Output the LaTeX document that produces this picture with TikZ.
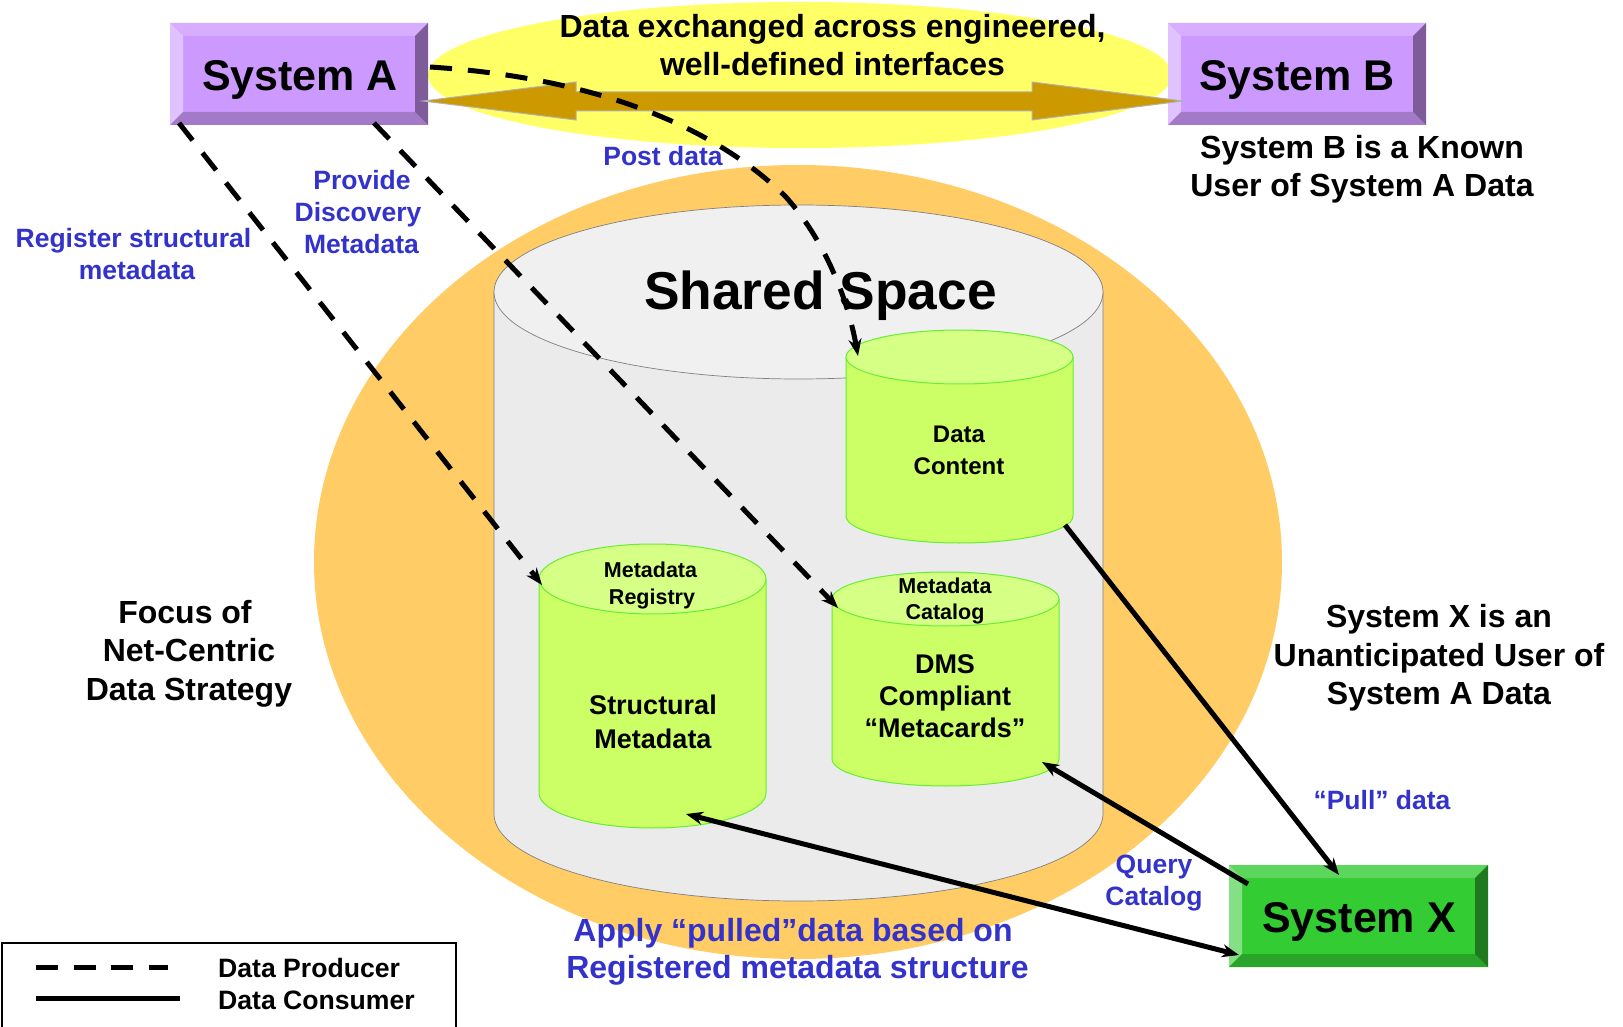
\documentclass[tikz,border=0pt]{standalone}
\usepackage{fontspec}
\setmainfont{Liberation Sans}
\usetikzlibrary{arrows.meta}
\definecolor{blu}{HTML}{3333CC}
\definecolor{orng}{HTML}{FFCC66}
\definecolor{yel}{HTML}{FFFF66}
\definecolor{brn}{HTML}{CC9900}
\definecolor{cylb}{HTML}{CCFF66}
\definecolor{cylt}{HTML}{D6FF85}
\definecolor{cyle}{HTML}{66EE33}
\definecolor{pm}{HTML}{CC99FF}\definecolor{pt}{HTML}{D6ADFF}\definecolor{pl}{HTML}{E0C2FF}\definecolor{pb}{HTML}{A37AC8}\definecolor{pr}{HTML}{7D5C99}
\definecolor{gm}{HTML}{33CC33}\definecolor{gt}{HTML}{5CD65C}\definecolor{gl}{HTML}{85E085}\definecolor{gb}{HTML}{29A329}\definecolor{gr}{HTML}{1F7A1F}
\newcommand{\fs}[2]{\fontsize{#1}{#2}\selectfont\bfseries}
\tikzset{
 txt/.style={inner sep=0pt,align=center,text=black},
 bl/.style={txt,text=blu},
 prod/.style={line width=5pt,black,dash pattern=on 22pt off 16pt},
 cons/.style={line width=5pt,black},
 tip/.style={-{Stealth[length=17pt,width=13pt]}},
 tips/.style={{Stealth[length=17pt,width=13pt]}-{Stealth[length=17pt,width=13pt]}},
}
% bevel box: x0,y0,x1,y1, main, top, left, bottom, right
\newcommand{\bevelbox}[9]{%
 \fill[#5] (#1,#2) rectangle (#3,#4);
 \fill[#6] (#1,#2) -- (#3,#2) -- (#3-13,#2+13) -- (#1+13,#2+13) -- cycle;
 \fill[#7] (#1,#2) -- (#1+13,#2+13) -- (#1+13,#4-13) -- (#1,#4) -- cycle;
 \fill[#8] (#1,#4) -- (#1+13,#4-13) -- (#3-13,#4-13) -- (#3,#4) -- cycle;
 \fill[#9] (#3,#2) -- (#3,#4) -- (#3-13,#4-13) -- (#3-13,#2+13) -- cycle;
}
% cylinder: x0,x1,cy top,cy bottom,ry
\newcommand{\cyl}[5]{%
 \pgfmathsetmacro{\rx}{(#2-#1)/2}
 \pgfmathsetmacro{\cx}{(#2+#1)/2}
 \filldraw[draw=cyle,fill=cylb,line width=1pt] (#1,#3) -- (#1,#4) arc[start angle=180,end angle=0,x radius=\rx,y radius=#5] -- (#2,#3) -- cycle;
 \filldraw[draw=cyle,fill=cylt,line width=1pt] (\cx,#3) ellipse[x radius=\rx,y radius=#5];
}
\begin{document}
\begin{tikzpicture}[x=1pt,y=-1pt]
\useasboundingbox (0,0) rectangle (1623,1027);
\fill[white] (0,0) rectangle (1623,1027);
% backgrounds
\fill[yel] (800,75) ellipse[x radius=372,y radius=73];
\fill[orng] (798,562) ellipse[x radius=484,y radius=397];
% big cylinder
\filldraw[draw=gray,fill=black!8,line width=.7pt] (494,292) -- (494,814) arc[start angle=180,end angle=0,x radius=304.5,y radius=87] -- (1103,292) -- cycle;
\filldraw[draw=gray,fill=black!6,line width=.7pt] (798.5,292) ellipse[x radius=304.5,y radius=87];
% small cylinders
\cyl{846}{1073}{357}{516}{27}
\cyl{539}{766}{579}{793}{35}
\cyl{832}{1059}{599}{759}{27}
% system boxes
\bevelbox{170}{23}{428}{125}{pm}{pt}{pl}{pb}{pr}
\bevelbox{1168}{23}{1426}{125}{pm}{pt}{pl}{pb}{pr}
\bevelbox{1229}{865}{1488}{967}{gm}{gt}{gl}{gb}{gr}
% double arrow
\filldraw[draw=black!30,fill=brn,line width=1pt] (423,101) -- (576,82) -- (576,92) -- (1032,92) -- (1032,82) -- (1183,101) -- (1032,120) -- (1032,111) -- (576,111) -- (576,120) -- cycle;
% texts
\node[txt,font=\fs{43}{48}] (sysA) at (300,79.5) {System A};
\node[txt,font=\fs{43}{48}] (sysB) at (1297,79.5) {System B};
\node[txt,font=\fs{43}{48}] (sysX) at (1359,922) {System X};
\node[txt,font=\fs{32}{38}] (hdr) at (832.5,45.5) {Data exchanged across engineered,\\well-defined interfaces};
\node[txt,font=\fs{32}{38}] (knownB) at (1362,169.5) {System B is a Known\\User of System A Data};
\node[txt,font=\fs{32}{38.5}] (focus) at (189,653.5) {\hspace*{-8pt}Focus of\\Net-Centric\\Data Strategy};
\node[txt,font=\fs{32}{38.5}] (unant) at (1439,658) {System X is an\\Unanticipated User of\\System A Data};
\node[txt,font=\fs{53.3}{60}] (shared) at (820.5,296) {Shared Space};
\node[txt,font=\fs{24}{32}] (dc) at (959,450) {Data\\Content};
\node[txt,font=\fs{21.5}{27}] (mr) at (652,585) {\hspace*{-3pt}Metadata\\Registry};
\node[txt,font=\fs{21.5}{26}] (mc) at (945,601) {Metadata\\Catalog};
\node[txt,font=\fs{27}{34}] (sm) at (653,722) {Structural\\Metadata};
\node[txt,font=\fs{27}{32}] (dms) at (945,696) {DMS\\Compliant\\“Metacards”};
\node[bl,font=\fs{26.5}{32}] (post) at (663,156) {Post data};
\node[bl,font=\fs{26.5}{32}] (disc) at (360,212) {\hspace*{4pt}Provide\\\hspace*{-4pt}Discovery\\\hspace*{3pt}Metadata};
\node[bl,font=\fs{26.5}{32}] (reg) at (135,254) {\hspace*{-3pt}Register structural\\\hspace*{4pt}metadata};
\node[bl,font=\fs{26.5}{32}] (pull) at (1382,800) {“Pull” data};
\node[bl,font=\fs{26.5}{32}] (query) at (1154,883) {Query\\Catalog};
\node[bl,font=\fs{32}{37.5}] (apply) at (797,952) {\hspace*{-8pt}Apply “pulled”data based on\\\hspace*{1pt}Registered metadata structure};
% connector ends
\coordinate (aE) at (430,67);
\coordinate (a1) at (179,123);
\coordinate (a2) at (374,123);
\coordinate (dcT) at (858,356);
\coordinate (mrT) at (542,585);
\coordinate (mcT) at (838,608);
\coordinate (dcB) at (1065,525);
\coordinate (xT) at (1339,875);
\coordinate (xL) at (1248,884);
\coordinate (mcB) at (1042,762);
\coordinate (smB) at (686,814);
\coordinate (xB) at (1239,955);
% connectors
\draw[prod,tip] (aE) .. controls (600,78) and (715,128) .. (785,196) .. controls (825,240) and (848,300) .. (dcT);
\draw[prod,tip] (a1) -- (mrT);
\draw[prod,tip] (a2) -- (mcT);
\draw[cons,tip] (dcB) -- (xT);
\draw[cons,tip] (xL) -- (mcB);
\draw[cons,tips] (smB) -- (xB);
% legend
\draw[black,line width=1.5pt] (2,943) -- (456,943) -- (456,1030) -- (2,1030) -- cycle;
\coordinate (l1) at (36,967); \coordinate (l2) at (168,967);
\coordinate (l3) at (36,998); \coordinate (l4) at (180,998);
\draw[line width=5pt,black,dash pattern=on 22pt off 15.5pt] (l1) -- (l2);
\draw[line width=5pt,black] (l3) -- (l4);
\node[txt,anchor=west,font=\fs{26.6}{32}] (lp) at (218,968) {Data Producer};
\node[txt,anchor=west,font=\fs{26.6}{32}] (lc) at (218,1000) {Data Consumer};
\end{tikzpicture}
\end{document}
